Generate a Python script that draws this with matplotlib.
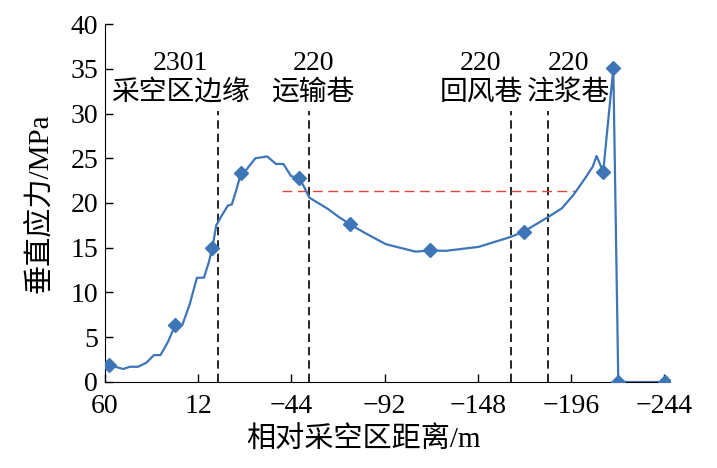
import matplotlib
matplotlib.use("Agg")
import matplotlib.pyplot as plt

plt.rcParams["font.family"] = ["Liberation Serif", "Noto Sans CJK SC"]
plt.rcParams["axes.unicode_minus"] = True

# distance (m, on the evenly spaced plot axis) and vertical stress (MPa)
dist = [57.8, 50.1, 46.5, 42.0, 37.4, 33.4, 29.8, 25.7, 21.7, 17.9, 13.9, 10.0, 6.2, 3.5, 1.6,
        -0.5, -3.2, -6.8, -9.0, -11.4, -13.9, -16.8, -21.8, -28.2, -33.0, -37.0, -41.2, -45.5,
        -48.4, -51.1, -61.5, -66.4, -73.3, -81.8, -92.7, -108.9, -116.7, -125.2, -143.2,
        -160.5, -167.6, -180.4, -188.4, -194.7, -201.0, -205.2, -207.3, -210.9, -216.4,
        -219.1, -244.5]
stress = [1.9, 1.45, 1.7, 1.7, 2.16, 3.0, 3.0, 4.5, 6.4, 6.4, 8.7, 11.65, 11.65, 13.4, 15.0,
          17.5, 18.5, 19.7, 19.85, 21.45, 23.3, 23.7, 25.0, 25.2, 24.36, 24.36, 23.0, 22.8,
          21.75, 20.6, 19.3, 18.55, 17.6, 16.6, 15.4, 14.56, 14.7, 14.65, 15.1,
          16.2, 16.8, 18.36, 19.4, 20.9, 22.75, 24.06, 25.25, 23.5, 35.05,
          0.0, 0.0]
marker_idx = [0, 8, 14, 20, 27, 32, 36, 40, 47, 48, 49, 50]

tick_labels = ["60", "12", "\u221244", "\u221292", "\u2212148", "\u2212196", "\u2212244"]
tick_pos = [60, 9.33, -41.33, -92, -142.67, -193.33, -244]

roadway_x = [-1.2, -51.1, -161.0, -181.0]
label_x = [19.2, -53.2, -144.4, -192.2]
label_num = ["2301", "220", "220", "220"]
label_name = ["采空区边缘", "运输巷", "回风巷", "注浆巷"]

ref_stress = 21.3
ref_from, ref_to = -36.5, -195.8

fig = plt.figure(figsize=(7.17, 4.68), dpi=100)
ax = fig.add_axes([0.1464, 0.1838, 0.7875, 0.7649])

blue = "#3d75b6"
ax.plot(dist, stress, color=blue, lw=1.6, marker="D", markersize=7.5,
        markevery=marker_idx, zorder=3)

for x in roadway_x:
    ax.plot([x, x], [0, 30.3], color="black", lw=1.2, ls=(0, (5, 3)), zorder=2)

ax.plot([ref_from, ref_to], [ref_stress, ref_stress], color="#e0443c", lw=1.0,
        ls=(0, (7, 4)), zorder=2)

for x, n, s in zip(label_x, label_num, label_name):
    ax.text(x, 35.6, n, ha="center", va="center", fontsize=20)
    ax.text(x, 32.3, s, ha="center", va="center", fontsize=20)

ax.set_xlim(60, -247)
ax.set_ylim(0, 40)
ax.set_xticks(tick_pos)
ax.set_xticklabels(tick_labels)
ax.set_yticks(range(0, 41, 5))
ax.tick_params(direction="in", length=6, width=1.0, labelsize=20)
ax.tick_params(axis="x", pad=9)
ax.tick_params(axis="y", pad=5)
ax.spines["top"].set_visible(False)
ax.spines["right"].set_visible(False)
ax.set_xlabel("相对采空区距离/m", fontsize=21)
ax.xaxis.set_label_coords(0.458, -0.125)
ax.set_ylabel("垂直应力/MPa", fontsize=21)
ax.yaxis.set_label_coords(-0.092, 0.5)

fig.savefig("out.png", dpi=100)
